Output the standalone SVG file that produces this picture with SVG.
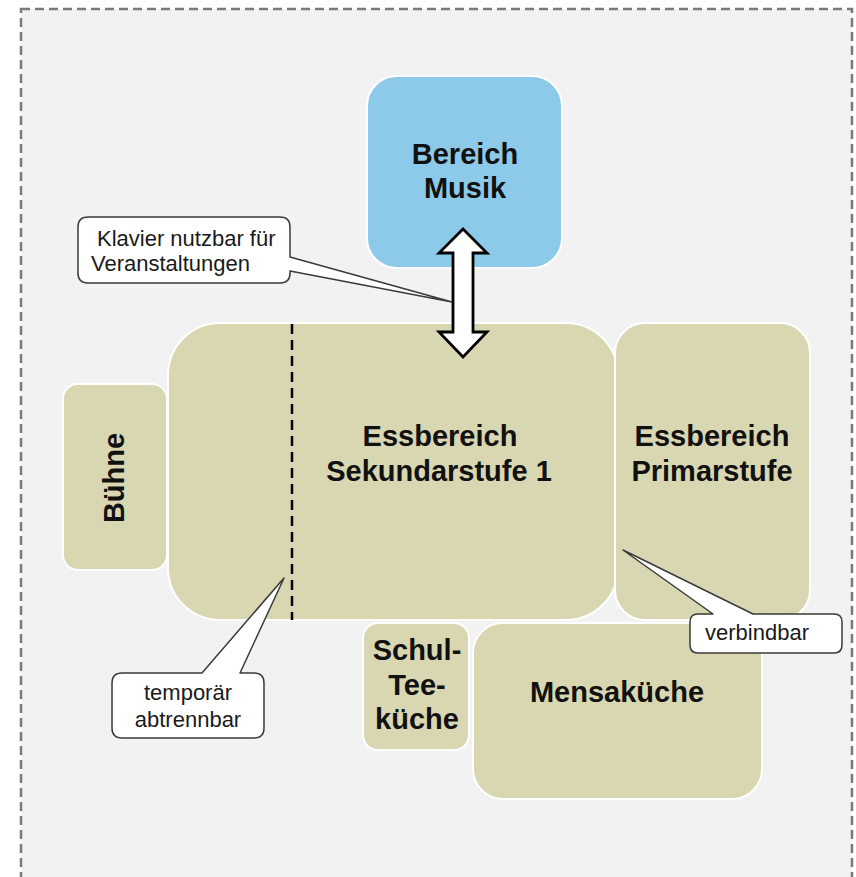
<svg xmlns="http://www.w3.org/2000/svg" width="856" height="877" viewBox="0 0 856 877">
<style>
.room{fill:#D8D7B1;stroke:#FFFFFF;stroke-width:2}
.music{fill:#8DC9E8;stroke:#FFFFFF;stroke-width:2}
.lbl{font-family:"Liberation Sans",Arial,sans-serif;font-weight:bold;font-size:29px;fill:#111;text-anchor:middle}
.call{fill:#FFFFFF;stroke:#3a3a3a;stroke-width:1.5;stroke-linejoin:round}
.ct{font-family:"Liberation Sans",Arial,sans-serif;font-size:22px;fill:#1a1a1a}
</style>
<rect x="0" y="0" width="856" height="877" fill="#FFFFFF"/>
<rect id="frame" x="21" y="9" width="831" height="900" fill="#F2F2F2" stroke="#7a7a7a" stroke-width="2.5" stroke-dasharray="9,5"/>

<g id="bereich-musik">
<rect class="music" x="367" y="76" width="195" height="192" rx="30"/>
<text class="lbl" x="465" y="164">Bereich</text>
<text class="lbl" x="465" y="198">Musik</text>
</g>

<g id="buehne">
<rect class="room" x="63" y="384" width="104" height="186" rx="15"/>
<text class="lbl" transform="translate(124,478) rotate(-90)" x="0" y="0">Bühne</text>
</g>

<g id="essbereich-sek">
<rect class="room" x="168" y="323" width="450" height="297" rx="52"/>
<text class="lbl" x="440" y="446">Essbereich</text>
<text class="lbl" x="439" y="481">Sekundarstufe 1</text>
</g>

<g id="essbereich-prim">
<rect class="room" x="615" y="323" width="195" height="297" rx="30"/>
<text class="lbl" x="712" y="446">Essbereich</text>
<text class="lbl" x="712" y="481">Primarstufe</text>
</g>

<g id="teekueche">
<rect class="room" x="363" y="623" width="106" height="127" rx="15"/>
<text class="lbl" x="417" y="660">Schul-</text>
<text class="lbl" x="417" y="695">Tee-</text>
<text class="lbl" x="417" y="729">küche</text>
</g>

<g id="mensakueche">
<rect class="room" x="473" y="623" width="289" height="176" rx="30"/>
<text class="lbl" x="617" y="702">Mensaküche</text>
</g>

<g id="connectors">
<line x1="292" y1="324" x2="292" y2="620" stroke="#000" stroke-width="2.5" stroke-dasharray="10,6"/>
<g id="callout-klavier">
<path class="call" d="M88,217 H280 Q290,217 290,227 V257 L452,302 L290,271 V273 Q290,283 280,283 H88 Q78,283 78,273 V227 Q78,217 88,217 Z"/>
<text class="ct" x="97" y="246">Klavier nutzbar für</text>
<text class="ct" x="91" y="271">Veranstaltungen</text>
</g>
<g id="callout-temporaer">
<path class="call" d="M122,673 H202 L284,578 L240,673 H254 Q264,673 264,683 V728 Q264,738 254,738 H122 Q112,738 112,728 V683 Q112,673 122,673 Z"/>
<text class="ct" x="188" y="700" text-anchor="middle">temporär</text>
<text class="ct" x="188" y="727" text-anchor="middle">abtrennbar</text>
</g>
<g id="callout-verbindbar">
<path class="call" d="M698,614 H713 L623,550 L753,614 H834 Q842,614 842,622 V645 Q842,653 834,653 H698 Q690,653 690,645 V622 Q690,614 698,614 Z"/>
<text class="ct" x="705" y="640">verbindbar</text>
</g>
<polygon id="double-arrow" points="463,229 487,253 473,253 473,332 487,332 463,357 439,332 453,332 453,253 439,253" fill="#FFFFFF" stroke="#000" stroke-width="2.8" stroke-linejoin="miter"/>
</g>
</svg>
